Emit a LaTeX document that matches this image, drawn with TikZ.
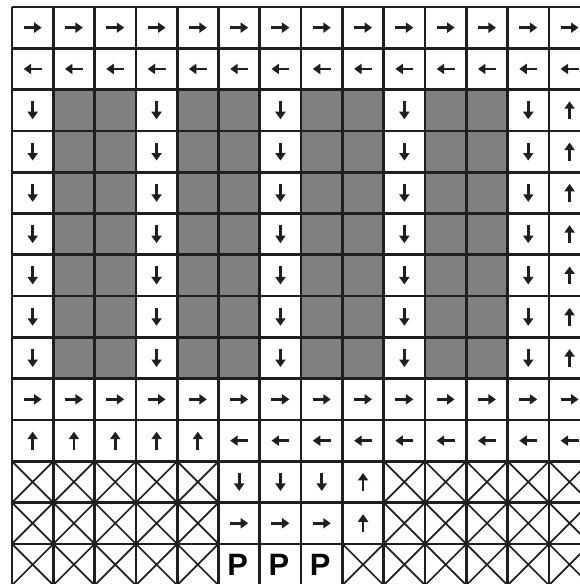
\documentclass[tikz,border=0pt]{standalone}
\usepackage{fontspec}
\setmainfont{Liberation Sans}
\usetikzlibrary{arrows.meta}
\newcommand\kindR{\draw[arr] ([xshift=-9bp]c\ri-\ci) -- ([xshift=9bp]c\ri-\ci);}
\newcommand\kindL{\draw[arr] ([xshift=9bp]c\ri-\ci) -- ([xshift=-9bp]c\ri-\ci);}
\newcommand\kindD{\draw[arr] ([yshift=9bp]c\ri-\ci) -- ([yshift=-9bp]c\ri-\ci);}
\newcommand\kindU{\draw[arr] ([yshift=-9bp]c\ri-\ci) -- ([yshift=9bp]c\ri-\ci);}
\newcommand\kindG{\fill[blocked] ([shift={(-20.65,-20.65)}]c\ri-\ci) rectangle ([shift={(20.65,20.65)}]c\ri-\ci);}
\newcommand\kindX{\draw[xline] ([shift={(-20.65,-20.65)}]c\ri-\ci) -- ([shift={(20.65,20.65)}]c\ri-\ci)
  ([shift={(-20.65,20.65)}]c\ri-\ci) -- ([shift={(20.65,-20.65)}]c\ri-\ci);}
\newcommand\kindP{\node[ptext] (P\ri-\ci) at ([xshift=-1.5bp]c\ri-\ci) {P};}
\begin{document}
\begin{tikzpicture}[x=1bp,y=-1bp,
  gridline/.style={line width=2.7bp, black!88},
  xline/.style={line width=1.7bp, black!88},
  blocked/.style={fill=black!50},
  arr/.style={line width=2.8bp, black!88, -{Triangle[length=7.5bp,width=10bp]}},
  ptext/.style={font=\bfseries\fontsize{31}{31}\selectfont, inner sep=0pt}]
\useasboundingbox (0,0) rectangle (580,584);
\clip (0,0) rectangle (580,584);
\fill[white] (0,0) rectangle (580,584);
\foreach \row [count=\ri from 0] in {
  {R,R,R,R,R,R,R,R,R,R,R,R,R,R},
  {L,L,L,L,L,L,L,L,L,L,L,L,L,L},
  {D,G,G,D,G,G,D,G,G,D,G,G,D,U},
  {D,G,G,D,G,G,D,G,G,D,G,G,D,U},
  {D,G,G,D,G,G,D,G,G,D,G,G,D,U},
  {D,G,G,D,G,G,D,G,G,D,G,G,D,U},
  {D,G,G,D,G,G,D,G,G,D,G,G,D,U},
  {D,G,G,D,G,G,D,G,G,D,G,G,D,U},
  {D,G,G,D,G,G,D,G,G,D,G,G,D,U},
  {R,R,R,R,R,R,R,R,R,R,R,R,R,R},
  {U,U,U,U,U,L,L,L,L,L,L,L,L,L},
  {X,X,X,X,X,D,D,D,U,X,X,X,X,X},
  {X,X,X,X,X,R,R,R,U,X,X,X,X,X},
  {X,X,X,X,X,P,P,P,X,X,X,X,X,X}}{
  \foreach \t [count=\ci from 0] in \row {
    \coordinate (c\ri-\ci) at (12+41.3*\ci+20.65, 7+41.3*\ri+20.65);
    \csname kind\t\endcsname
  }
}
\foreach \i in {0,...,14}{
  \draw[gridline] (12+41.3*\i, 7) -- (12+41.3*\i, 7+41.3*14);
  \draw[gridline] (12, 7+41.3*\i) -- (12+41.3*14, 7+41.3*\i);
}
\end{tikzpicture}
\end{document}
